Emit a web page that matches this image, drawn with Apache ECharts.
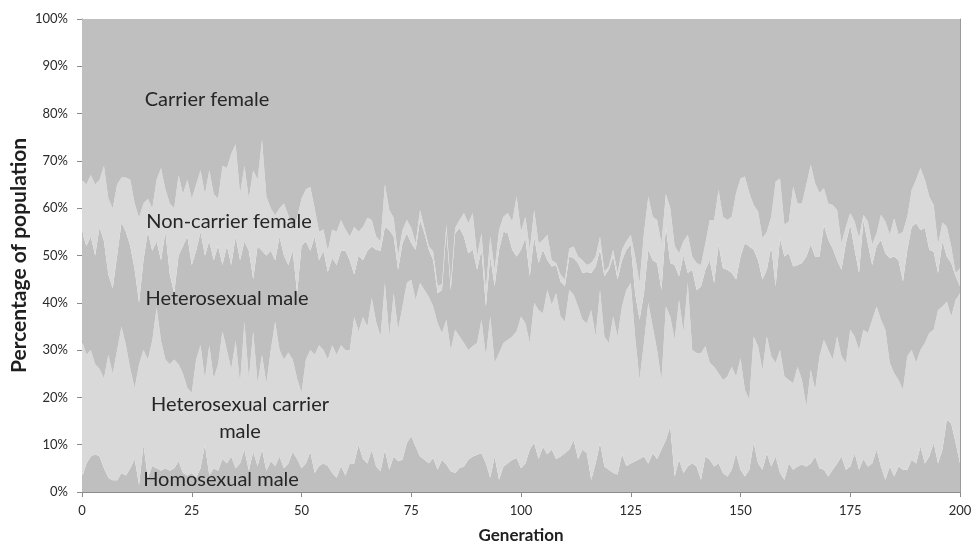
<!DOCTYPE html>
<html>
<head>
<meta charset="utf-8">
<script src="https://cdn.jsdelivr.net/npm/echarts@6/dist/echarts.min.js"></script>
<style>
  html, body { margin: 0; padding: 0; background: #fff; }
  #chart { width: 976px; height: 544px; }
</style>
</head>
<body>
<div id="chart"></div>
<script>
// generations 0..200 (category axis)
const generations = Array.from({ length: 201 }, (_, i) => String(i));
const yTicks = [0, 10, 20, 30, 40, 50, 60, 70, 80, 90, 100];

// cumulative boundaries (% of population, bottom up)
// top of "Homosexual male"
const homosexualTop = [
  3,6,7.5,8,7.5,5,3,2.5,2.5,4,3.5,5,7,1.5,10,3,5.5,5,4.5,5,4.5,5,6.5,4,3.5,4,3,5,10,3.5,5,4.5,7,
  6,7.5,5,6,9,4.5,8.5,5.5,9,4.5,6.5,5.5,7.5,5,6,8.5,7,5,6,8.5,4,5.5,6,5.5,4,3,5.5,3.5,6,6,10,7,6,
  8.9,5.4,4.4,8.9,4.7,7.5,6.5,6.8,10.4,11.8,9.6,7.5,6.8,6.1,7.2,4.7,6.8,5.8,4.4,4,5.1,5.4,6.8,7.5,7.9,8.2,6.1,3,7.5,2.6,5.4,6.1,6.8,7.2,
  5,6,9,10.4,7,9.5,8,9,7,7.5,8.2,9,11,7,9,8.2,2.6,6,10.4,5.4,4.7,4,3.7,8,5.5,6,6.5,7,7.5,6,8.2,7,9,
  11,13.9,3.3,6.8,4,5.4,6.1,5.4,2.6,7.5,6.8,5.4,6.1,4,3.3,4.7,8.2,4.7,3.3,4.7,10.4,6.1,4.7,8.2,5.4,7.5,4,2.6,6.1,4.7,5.4,5.8,5.4,
  6,7.5,5,4.7,3.3,4.7,6,7.5,4.7,5.4,8.2,4.7,7,5.4,6,9,5.4,2.6,5.4,3.3,5.4,4.7,4.7,6.8,6,9.6,6,7.5,10.4,6,9,15.3,14.5,10.4,6
];
// top of "Heterosexual carrier male"
const hetCarrierTop = [
  32,29,30,27,26,24,29,25,30,35,31,26,22,27,30,28,32,39,32,28,27,28,27,25,22,21,28,31,24,31,24,27,34,
  30,26,32,23,36,24,34,23,29,23,30,36,30,28,29.5,28,24,21,28,30,29,31,30,28,31,29,31,30,30,37,34,37,35,
  41,36,32.9,44.2,32.9,42,34.3,39.2,44.2,44.9,40.6,44.2,42.7,41.3,39.2,35.7,33.6,36.4,30,34.3,32.9,31.5,30,30.8,31.5,36.4,28.7,37.1,27.3,29.4,31.5,32.2,32.9,34,
  37.1,35.7,31.5,40,38.5,37.8,42.7,39.6,42,37.1,36,42.7,41.7,39.2,36.4,35.7,38.5,32.9,42.7,32.9,31.5,37.1,32.9,39.2,42.7,44.2,32.9,23.7,31.5,40,35,30,23.7,
  39.2,37.1,32.2,40.6,33.9,44.2,30,29.4,29.4,30.8,27.3,26.5,25.1,23.7,24.4,26.5,24.4,28.3,21.6,19.5,32.9,30.8,25.8,32.9,28.7,27.3,30,24.4,23.7,23,26.5,23.7,18.1,
  25.8,21.6,28.7,32.2,30,28,32.9,28.7,27.3,34.3,32.9,30,34.3,33.6,36.4,39.2,36.4,34.3,27.3,25.1,23.7,21.6,28.7,30,27.3,30,31.5,33.6,34.3,38.5,39.2,40.3,37.1,40.6,42
];
// top of "Heterosexual male"
const hetMaleTop = [
  55,52,54,50,56,53,46,43,50,57,55,52,47,40,49,55,51,53,49,55,46,42,50,52,54,48,51,55,50,53,49,52,48,
  52,48,54,49,53,51,45,52,51,50,51,49,54,50,48,51,42,52,53,51,54,49,51,46.5,49.5,48,51,51,49,46,50,49,51,
  51.9,51.2,51,56,55.4,54,47,52.6,54.7,52.6,51.2,57.5,54.7,51.2,49,42,42.7,55.4,42.7,54.7,55.8,54,50.5,51.2,47,51.2,39.2,49.8,43.5,51.2,55,54.7,51.2,49.8,
  51.2,53.7,45.6,54,48.4,51.2,49,47.7,48,44.5,43.5,49.8,49.4,48.4,46.3,46.5,46.3,47.7,51.2,45.6,47,49.8,44.9,49,51.2,52.3,42,36.4,42,51.2,49,48.4,42.7,
  56,48.4,48,45.6,50,46.3,47,42.7,43.4,47,49,44.2,52.3,47.3,47,46.3,44.9,49.8,52.6,51.9,51.2,49,44.9,47,51.9,43.5,53.7,49.8,50.5,47.7,48,48.4,49.8,
  52.3,49.8,49.8,56.5,53.3,51.5,49,47,52.6,56.5,51.2,46.3,57.5,52.6,48,52,53.3,50.5,49.4,49.8,49,44.5,51.2,56.1,56.8,55.4,55.8,51.2,50.8,46.3,53,49.8,48.4,45.6,43.5
];
// top of "Non-carrier female" (the rest up to 100% is "Carrier female")
const nonCarrierTop = [
  66,65,67,65,66,69,62,60,65,66.5,66.5,66,61,58,61,62,60,66,68.5,64,61,60,67,63,66,62,65,68,63,68,63,62,69,
  68.5,71.5,73.5,63,69,62,68,66,74.5,62.5,60,58.5,60,61,58.5,55.5,58,62,64,64.5,60,55,55.5,51,55.5,55,57.5,55.5,54,56,55,56,58,
  57.5,54,53,65,59.6,58,50,55.4,57.5,55.8,52.6,59.6,55.8,52,50.8,43.5,44,56.5,44,55.8,57.5,59,56.8,59,49.8,54.7,42.7,54,47,55.4,58.2,59,57.2,62.5,
  55,58.2,51.2,59.6,52.6,53.3,54.4,49,48.4,46,44.9,51.5,51.9,49.8,49,48,48.4,49.8,54,46.6,47.7,51.2,46.3,51.2,53,54.4,49.8,44.2,54.7,62.5,58.2,57.5,52.6,
  63,60,52,50.5,53,54.4,49.8,48.4,48,52.6,57.5,57.5,63.9,58.2,57.5,58.2,63.2,66.3,66.7,63.2,60.7,59.3,53.7,55,58.2,65.6,66.3,56.5,57.2,64.6,61,61,65,
  69.2,65.3,63.2,64.2,61,60.7,59.6,52.6,56.1,59,57.2,53.7,58.6,57.2,52.3,54.7,58.6,57.2,54.4,57.9,54.4,55,58.2,63.9,66,68.5,66,62.5,60.7,52.3,57,56.1,51.9,46.3,47.3
];

const DARK = '#bfbfbf';
const LIGHT = '#d9d9d9';
const FONT = 'Lato, "Open Sans", sans-serif';

function diff(top, below) {
  return top.map((v, i) => +(v - (below ? below[i] : 0)).toFixed(1));
}

const layers = [
  { name: 'Homosexual male', data: diff(homosexualTop), color: DARK },
  { name: 'Heterosexual carrier male', data: diff(hetCarrierTop, homosexualTop), color: LIGHT },
  { name: 'Heterosexual male', data: diff(hetMaleTop, hetCarrierTop), color: DARK },
  { name: 'Non-carrier female', data: diff(nonCarrierTop, hetMaleTop), color: LIGHT },
  { name: 'Carrier female', data: nonCarrierTop.map(v => +(100 - v).toFixed(1)), color: DARK }
];

const chart = echarts.init(document.getElementById('chart'));

const label = (text, x, y) => ({
  type: 'text',
  x: x,
  y: y,
  silent: true,
  z: 100,
  style: {
    text: text,
    fill: '#262626',
    font: '20px ' + FONT,
    textAlign: 'center',
    textVerticalAlign: 'middle',
    lineHeight: 27
  }
});

chart.setOption({
  animation: false,
  grid: { left: 82, right: 16, top: 19, bottom: 52, containLabel: false, outerBoundsMode: 'none' },
  xAxis: {
    type: 'category',
    data: generations,
    boundaryGap: false,
    name: 'Generation',
    nameLocation: 'middle',
    nameGap: 35,
    nameTextStyle: { fontFamily: FONT, fontWeight: 'bold', fontSize: 17, color: '#1f1f1f' },
    axisLine: { lineStyle: { color: '#8c8c8c', width: 1 } },
    axisTick: { interval: 24, length: 5, lineStyle: { color: '#8c8c8c' } },
    axisLabel: { interval: 24, color: '#2a2a2a', fontFamily: FONT, fontSize: 13, margin: 12 },
    splitLine: { show: false }
  },
  yAxis: [
    {
      type: 'value',
      min: 0,
      max: 100,
      interval: 10,
      name: 'Percentage of population',
      nameLocation: 'middle',
      nameRotate: 90,
      nameGap: 52,
      nameMoveOverlap: false,
      nameTextStyle: { fontFamily: FONT, fontWeight: 'bold', fontSize: 21, color: '#1f1f1f' },
      axisLine: { show: true, lineStyle: { color: '#8c8c8c', width: 1 } },
      axisTick: { show: true, length: 5, lineStyle: { color: '#8c8c8c' } },
      axisLabel: {
        color: '#2a2a2a',
        fontFamily: FONT,
        fontSize: 13,
        margin: 14,
        formatter: v => (yTicks.includes(v) ? v + '%' : '')
      },
      splitLine: { show: false }
    },
    {
      type: 'value',
      min: 0,
      max: 100,
      position: 'right',
      axisLine: { show: true, lineStyle: { color: '#9a9a9a', width: 1 } },
      axisTick: { show: false },
      axisLabel: { show: false },
      splitLine: { show: false }
    }
  ],
  series: layers.map(l => ({
    name: l.name,
    type: 'line',
    stack: 'population',
    data: l.data,
    symbol: 'none',
    silent: true,
    lineStyle: { width: 0 },
    itemStyle: { color: l.color },
    areaStyle: { color: l.color, opacity: 1 }
  })),
  graphic: [
    label('Carrier female', 207, 100),
    label('Non-carrier female', 229, 222),
    label('Heterosexual male', 227, 299),
    label('Heterosexual carrier\nmale', 240, 418),
    label('Homosexual male', 221, 480)
  ]
});
</script>
</body>
</html>
